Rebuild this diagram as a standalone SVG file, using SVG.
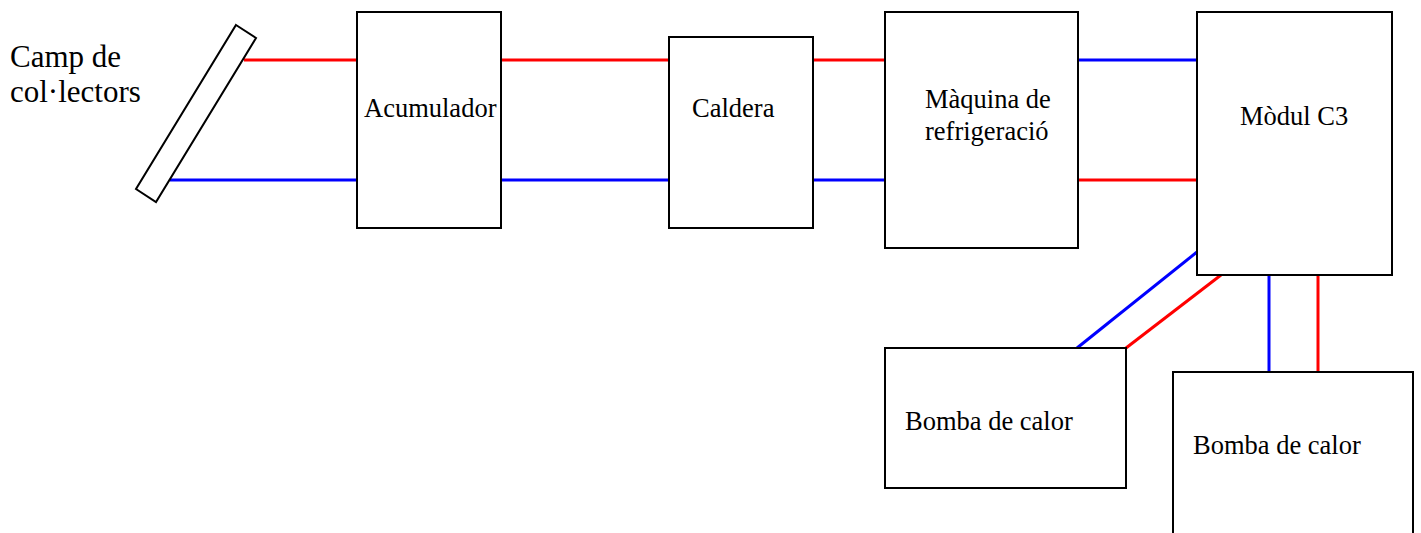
<svg xmlns="http://www.w3.org/2000/svg" width="1421" height="533" viewBox="0 0 1421 533">
<style>
.box{fill:#fff;stroke:#000;stroke-width:2}
.lbl{font-family:"Liberation Serif","Times New Roman",serif;font-size:26.5px;fill:#000}
.big{font-family:"Liberation Serif","Times New Roman",serif;font-size:31px;fill:#000}
.hot{stroke:#ff0000;stroke-width:3;fill:none}
.cold{stroke:#0000ff;stroke-width:3;fill:none}
</style>
<rect width="1421" height="533" fill="#fff"/>
<g id="connectors">
<line class="hot" x1="244" y1="60" x2="357" y2="60"/>
<line class="cold" x1="170" y1="180" x2="357" y2="180"/>
<line class="hot" x1="501" y1="60" x2="669" y2="60"/>
<line class="cold" x1="501" y1="180" x2="669" y2="180"/>
<line class="hot" x1="813" y1="60" x2="885" y2="60"/>
<line class="cold" x1="813" y1="180" x2="885" y2="180"/>
<line class="cold" x1="1078" y1="60" x2="1197" y2="60"/>
<line class="hot" x1="1078" y1="180" x2="1197" y2="180"/>
<line class="cold" x1="1197" y1="252" x2="1077" y2="348"/>
<line class="hot" x1="1221" y1="275" x2="1126" y2="348"/>
<line class="cold" x1="1269" y1="275" x2="1269" y2="372"/>
<line class="hot" x1="1318" y1="275" x2="1318" y2="372"/>
</g>
<g id="collectors">
<text class="big" x="10" y="67">Camp de</text>
<text class="big" x="10" y="102">col·lectors</text>
<polygon class="box" points="236,25 256,38 156,202 136,189"/>
</g>
<g id="acumulador">
<rect class="box" x="357" y="12" width="144" height="216"/>
<text class="lbl" x="364" y="117">Acumulador</text>
</g>
<g id="caldera">
<rect class="box" x="669" y="37" width="144" height="191"/>
<text class="lbl" x="692" y="117">Caldera</text>
</g>
<g id="maquina">
<rect class="box" x="885" y="12" width="193" height="236"/>
<text class="lbl" x="925" y="108">Màquina de</text>
<text class="lbl" x="925" y="140">refrigeració</text>
</g>
<g id="modul">
<rect class="box" x="1197" y="12" width="195" height="263"/>
<text class="lbl" x="1240" y="125">Mòdul C3</text>
</g>
<g id="bomba1">
<rect class="box" x="885" y="348" width="241" height="140"/>
<text class="lbl" x="905" y="430">Bomba de calor</text>
</g>
<g id="bomba2">
<rect class="box" x="1173" y="372" width="240" height="170"/>
<text class="lbl" x="1193" y="454">Bomba de calor</text>
</g>
</svg>
